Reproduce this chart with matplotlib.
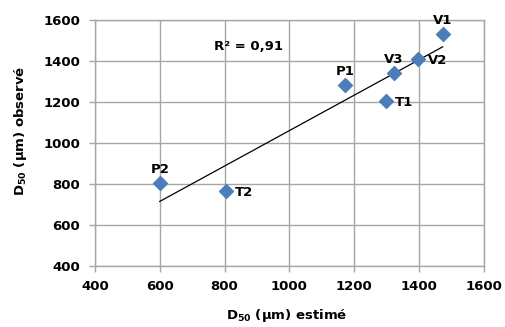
import matplotlib
matplotlib.use("Agg")
import matplotlib.pyplot as plt
import numpy as np

plt.rcParams['font.family'] = ['DejaVu Sans']
plt.rcParams['font.weight'] = 'bold'
plt.rcParams['axes.labelweight'] = 'bold'
plt.rcParams['mathtext.fontset'] = 'dejavusans'
plt.rcParams['mathtext.default'] = 'bf'

# data
names = ['P2', 'T2', 'P1', 'T1', 'V3', 'V2', 'V1']
d50_est = [600, 803, 1172, 1297, 1323, 1397, 1473]
d50_obs = [805, 766, 1283, 1205, 1343, 1408, 1530]
label_pos = ['above', 'right', 'above', 'right', 'above', 'right', 'above']
ticks = [400, 600, 800, 1000, 1200, 1400, 1600]

fig = plt.figure(figsize=(5.05, 3.27), dpi=100)
ax = fig.add_axes([0.188, 0.187, 0.770, 0.752])

grid_col = '#a6a6a6'
ax.set_xlim(400, 1600)
ax.set_ylim(400, 1600)
ax.set_xticks(ticks)
ax.set_yticks(ticks)
ax.grid(True, color=grid_col, linewidth=1.0)
ax.set_axisbelow(True)
for s in ax.spines.values():
    s.set_color(grid_col)
    s.set_linewidth(1.0)
ax.tick_params(color=grid_col, length=4, width=1, labelsize=9.5, pad=6.5)
for lab in ax.get_xticklabels() + ax.get_yticklabels():
    lab.set_fontweight('bold')

# linear trend line
a, b = np.polyfit(d50_est, d50_obs, 1)
xt = np.array([min(d50_est), max(d50_est)])
ax.plot(xt, a * xt + b, color='black', linewidth=0.9, zorder=2)

ax.scatter(d50_est, d50_obs, marker='D', s=50, color='#4a7ebb', zorder=3)

for n, x, y, p in zip(names, d50_est, d50_obs, label_pos):
    if p == 'above':
        ax.annotate(n, (x, y), xytext=(0, 5), textcoords='offset points',
                    ha='center', va='bottom', fontsize=9.5, fontweight='bold')
    else:
        ax.annotate(n, (x, y), xytext=(7, -1), textcoords='offset points',
                    ha='left', va='center', fontsize=9.5, fontweight='bold')

ax.text(875, 1468, 'R² = 0,91', ha='center', va='center', fontsize=9.5, fontweight='bold')

ax.set_xlabel(r'D$_{50}$ (µm) estimé', fontsize=9.5, fontweight='bold')
ax.set_ylabel(r'D$_{50}$ (µm) observé', fontsize=9.5, fontweight='bold')
ax.xaxis.set_label_coords(0.494, -0.168)
ax.yaxis.set_label_coords(-0.17, 0.549)

fig.savefig('out.png', dpi=100)
